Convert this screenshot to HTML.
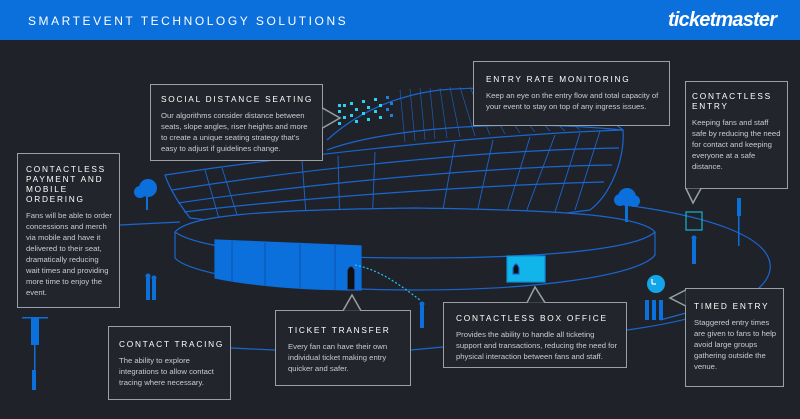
<!DOCTYPE html>
<html><head><meta charset="utf-8"><style>
*{margin:0;padding:0;box-sizing:border-box}
body{width:800px;height:419px;background:#1f2329;position:relative;overflow:hidden;font-family:"Liberation Sans",sans-serif}
.hdr{position:absolute;left:0;top:0;width:800px;height:40px;background:#0b6fdc}
.hdr .t{position:absolute;left:28px;top:14px;color:#fff;font-size:12px;letter-spacing:2.55px;white-space:nowrap}
.hdr .l{position:absolute;left:668px;top:9px;color:#fff;font-size:20px;font-weight:bold;font-style:italic;letter-spacing:-0.8px}
svg{position:absolute;left:0;top:0}
.b{position:absolute;background:#22262c;border:1.5px solid #9aa0a6;padding:10px 8px 0 14px}
.b h{display:block;color:#fff;font-size:8.3px;letter-spacing:1.75px;line-height:15px;margin-bottom:3px;white-space:nowrap}
.b h.m{line-height:10px;margin-bottom:6px}
.b p{color:#c9cbce;font-size:7.7px;line-height:11px}
</style></head><body>
<div class="hdr"><div class="t">SMARTEVENT TECHNOLOGY SOLUTIONS</div><div class="l">ticketmaster</div></div>
<svg width="800" height="419" viewBox="0 0 800 419" fill="none" stroke="#1a66d0" stroke-width="1.2">
<path d="M120,225 L180,222 M625,205 C700,215 775,235 770,270 C765,300 700,320 627,330 L443,347 L411,350 M275,350 L231,348 M660,320 L690,312"/>
<path d="M327,140 C360,110 400,95 440,90 C500,85 560,90 600,112 L623,130"/>
<path d="M327,150 C380,130 500,118 623,130"/>
<g stroke="#1a66d0" stroke-width="0.6">
<path d="M400,90 L405,142 M410,89 L415,141 M420,88 L425,140 M430,88 L435,139 M440,88 L447,138 M450,87 L460,137 M460,87 L475,136 M470,87 L490,135 M480,88 L505,134 M490,88 L520,133 M500,88 L535,132 M510,89 L550,131 M520,90 L565,131 M530,91 L580,130"/>
</g>
<path d="M165,175 C300,155 480,135 623,130 C625,160 610,195 590,210 C480,225 300,232 190,218 C180,205 170,190 165,175Z" fill="#1f2329"/>
<path d="M172,190 C300,170 480,150 619,148 M178,203 C300,185 480,167 612,165 M184,212 C300,198 480,185 604,182"/>
<g stroke-width="0.9">
<path d="M205,170 L220,222 M222,168 L240,224 M302,160 L307,228 M338,156 L340,228 M375,152 L372,228 M455,143 L440,226 M493,140 L475,222 M530,137 L505,218 M555,135 L525,215 M580,133 L555,212 M600,131 L575,210"/>
</g>
<path d="M175,232 C190,215 260,210 415,208 C560,210 640,215 655,232 L655,255 C640,275 540,290 415,290 C290,290 190,275 175,258 Z" fill="#1f2329"/>
<path d="M175,232 C200,250 300,258 415,258 C540,258 635,250 655,232"/>
<path d="M215,240 L361,246 L361,290 C300,290 250,285 215,278Z" fill="#0b6fdc" stroke="#0b6fdc"/>
<path d="M232,241 L232,282 M265,243 L265,286 M300,244 L300,289 M335,245 L335,290" stroke="#0a58b8"/>
<rect x="507" y="256" width="38" height="26" fill="#12b5ea" stroke="#0a8fd8"/>
<path d="M513,268 q3,-8 6,0 v6 h-6z" fill="#111"/>
<path d="M347,270 q4,-8 8,0 v20 h-8z" fill="#111"/>
<path d="M355,265 C380,270 400,285 420,300" stroke="#23c5f0" stroke-dasharray="2,2"/>
<g fill="#2ad4f0" stroke="none">
<rect x="338" y="104" width="3" height="3"/><rect x="343" y="104" width="3" height="3"/><rect x="338" y="110" width="3" height="3"/><rect x="343" y="116" width="3" height="3"/><rect x="338" y="122" width="3" height="3"/>
<rect x="350" y="102" width="3" height="3"/><rect x="355" y="108" width="3" height="3"/><rect x="350" y="114" width="3" height="3"/><rect x="355" y="120" width="3" height="3"/>
<rect x="362" y="100" width="3" height="3"/><rect x="367" y="106" width="3" height="3"/><rect x="362" y="112" width="3" height="3"/><rect x="367" y="118" width="3" height="3"/>
<rect x="374" y="98" width="3" height="3"/><rect x="379" y="104" width="3" height="3"/><rect x="374" y="110" width="3" height="3"/><rect x="379" y="116" width="3" height="3"/>
<rect x="386" y="96" width="3" height="3" fill="#1a7fe0"/><rect x="390" y="102" width="3" height="3" fill="#1a7fe0"/><rect x="386" y="108" width="3" height="3" fill="#1a7fe0"/><rect x="390" y="114" width="3" height="3" fill="#1a7fe0"/>
</g>
<g fill="#0b6fdc" stroke="none">
<circle cx="148" cy="188" r="9"/><circle cx="140" cy="192" r="6"/><rect x="146" y="192" width="2" height="18"/>
<circle cx="627" cy="197" r="9"/><circle cx="620" cy="200" r="6"/><circle cx="634" cy="201" r="6"/><rect x="625" y="200" width="3" height="22"/>
<rect x="146" y="278" width="4" height="22"/><circle cx="148" cy="276" r="2.5"/><rect x="152" y="280" width="4" height="20"/><circle cx="154" cy="278" r="2.5"/>
<rect x="420" y="306" width="4" height="22"/><circle cx="422" cy="304" r="2.5"/>
<rect x="692" y="240" width="4" height="24"/><circle cx="694" cy="238" r="2.5"/>
<rect x="645" y="300" width="4" height="20"/><rect x="652" y="300" width="4" height="20"/><rect x="659" y="300" width="4" height="20"/>
<circle cx="656" cy="284" r="9" fill="#12a5ea"/>
<rect x="31" y="317" width="8" height="28"/><rect x="34" y="345" width="1.5" height="28"/><rect x="32" y="370" width="4" height="20"/><rect x="22" y="317" width="26" height="1.5"/>
<rect x="737" y="198" width="4" height="18"/><rect x="738" y="216" width="1.5" height="30"/>
</g>
<rect x="686" y="212" width="16" height="18" stroke="#19b0c8"/>
<path d="M652,284 v-5 M652,284 h4" stroke="#fff"/>
</svg>
<div class="b" style="left:150px;top:84px;width:173px;height:77px;padding:7px 6px 0 10px"><h>SOCIAL DISTANCE SEATING</h><p>Our algorithms consider distance between seats, slope angles, riser heights and more to create a unique seating strategy that's easy to adjust if guidelines change.</p></div>
<div class="b" style="left:473px;top:61px;width:197px;height:65px;padding:10px 6px 0 12px"><h>ENTRY RATE MONITORING</h><p>Keep an eye on the entry flow and total capacity of your event to stay on top of any ingress issues.</p></div>
<div class="b" style="left:685px;top:81px;width:103px;height:108px;padding:9px 6px 0 6px"><h class="m">CONTACTLESS<br>ENTRY</h><p>Keeping fans and staff safe by reducing the need for contact and keeping everyone at a safe distance.</p></div>
<div class="b" style="left:17px;top:153px;width:103px;height:155px;padding:10px 6px 0 8px"><h class="m">CONTACTLESS<br>PAYMENT AND<br>MOBILE<br>ORDERING</h><p>Fans will be able to order concessions and merch via mobile and have it delivered to their seat, dramatically reducing wait times and providing more time to enjoy the event.</p></div>
<div class="b" style="left:108px;top:326px;width:123px;height:74px;padding:10px 6px 0 10px"><h>CONTACT TRACING</h><p>The ability to explore integrations to allow contact tracing where necessary.</p></div>
<div class="b" style="left:275px;top:310px;width:136px;height:76px;padding:12px 6px 0 12px"><h>TICKET TRANSFER</h><p>Every fan can have their own individual ticket making entry quicker and safer.</p></div>
<div class="b" style="left:443px;top:302px;width:184px;height:66px;padding:8px 6px 0 12px"><h>CONTACTLESS BOX OFFICE</h><p>Provides the ability to handle all ticketing support and transactions, reducing the need for physical interaction between fans and staff.</p></div>
<div class="b" style="left:685px;top:288px;width:99px;height:99px;padding:10px 6px 0 8px"><h>TIMED ENTRY</h><p>Staggered entry times are given to fans to help avoid large groups gathering outside the venue.</p></div>
<svg width="800" height="419" viewBox="0 0 800 419" fill="#22262c" stroke="#9aa0a6" stroke-width="1.5">
<path d="M322.5,108 L340,118 L322.5,128"/>
<path d="M686,188.5 L693,203 L701,188.5"/>
<path d="M343,310.7 L352,295 L361,310.7"/>
<path d="M527,302.7 L535,287 L545,302.7"/>
<path d="M685.7,290 L670,298 L685.7,306"/>
</svg>
</body></html>
